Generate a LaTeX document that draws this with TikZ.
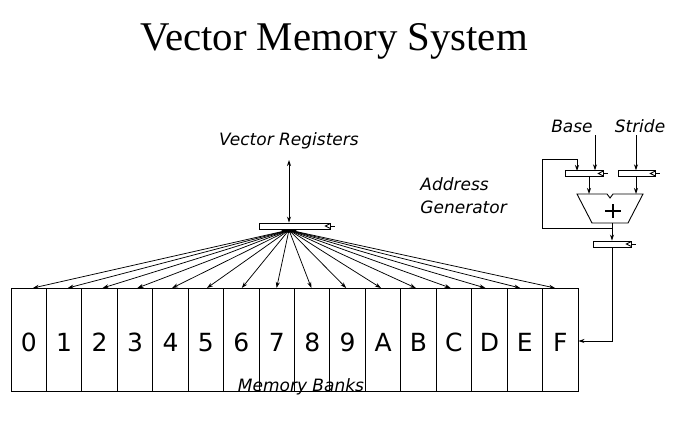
\documentclass[tikz,border=0pt]{standalone}
\usepackage{fontspec}
\setmainfont{Liberation Serif}
\newfontfamily\dv{DejaVu Sans}
\usetikzlibrary{arrows.meta}
\tikzset{
  bank/.style={draw, minimum width=35.4375pt, minimum height=103pt, inner sep=0pt},
  banklabel/.style={inner sep=0pt, anchor=base, font=\dv\fontsize{25}{25}\selectfont},
  lbl/.style={font=\dv\itshape\fontsize{17}{23}\selectfont, inner sep=0pt},
  reg/.style={draw, fill=white, minimum height=5.5pt, inner sep=0pt},
  fanarrow/.style={->, line width=0.75pt},
}
\newcommand{\clockmark}[1]{%
  \draw ([yshift=2.5pt]#1.east) -- ([xshift=-5pt]#1.east) -- ([yshift=-2.5pt]#1.east);
  \draw (#1.east) -- ([xshift=5pt]#1.east);}
\begin{document}
\begin{tikzpicture}[x=1pt,y=-1pt, line width=0.9pt, >={Stealth[length=6pt,width=4pt]}]
\useasboundingbox (0,0) rectangle (675,423);
% title
\node[anchor=base, inner sep=0pt, font=\fontsize{40.8}{41}\selectfont] (title) at (334,50) {Vector Memory System};
% memory banks
\foreach \i/\l in {0/0,1/1,2/2,3/3,4/4,5/5,6/6,7/7,8/8,9/9,10/A,11/B,12/C,13/D,14/E,15/F}{
  \node[bank] (b\i) at ({11+35.4375*(\i+0.5)},339.5) {};
  \node[banklabel] (l\i) at ([yshift=-11.5pt]b\i.center) {\l};
}
\node[lbl, anchor=base] (mb) at (301,391) {Memory Banks};
% vector registers
\node[lbl, anchor=base] (vrl) at (289,145) {Vector Registers};
\node[reg, minimum width=71pt, minimum height=6pt] (vr) at (294.5,226) {};
\clockmark{vr}
\coordinate (vrin) at (289,160);
\draw[<->] (vrin) -- (vrin |- vr.north);
\coordinate (fan) at (289,230);
\fill (281,229) .. controls (281.5,234) and (296.5,234) .. (297,229) -- cycle;
\foreach \i in {0,...,15}{
  \coordinate (t\i) at ({33+34.8*\i},288);
  \draw[fanarrow] (fan) -- (t\i);
}
% address generator
\node[lbl, anchor=north west, align=left] (ag) at (420,177.1) {Address\\Generator};
\node[lbl, anchor=base] (base) at (572,132) {Base};
\node[lbl, anchor=base] (stride) at (640,132) {Stride};
\node[reg, minimum width=38pt] (r1) at (584,173.5) {};
\node[reg, minimum width=37pt] (r2) at (636.5,173.5) {};
\node[reg, minimum width=38pt, minimum height=6pt] (r3) at (612,244) {};
\clockmark{r1}
\clockmark{r2}
\clockmark{r3}
\coordinate (bin) at (595,135);
\coordinate (sin) at (636,135);
\draw[->] (bin) -- (bin |- r1.north);
\draw[->] (sin) -- (sin |- r2.north);
% adder
\coordinate (a1) at (589,194);
\coordinate (a2) at (636,194);
\coordinate (aout) at (612,223);
\draw (577,194) -- (607,194) -- (610,198) -- (613,194) -- (643,194) -- (628,223) -- (592,223) -- cycle;
\draw[line width=1.8pt] (605,211) -- (621,211) (613,204) -- (613,218);
\draw[->] (a1 |- r1.south) -- (a1);
\draw[->] (a2 |- r2.south) -- (a2);
\draw[->] (aout) -- (r3.north);
\coordinate (fb) at (612,228);
\draw[->] (fb) -- (542,228) -- (542,159) -- (577,159) -- (577,171);
\draw[->] (r3.south) |- ([yshift=-1.5pt]b15.east);
\end{tikzpicture}
\end{document}
